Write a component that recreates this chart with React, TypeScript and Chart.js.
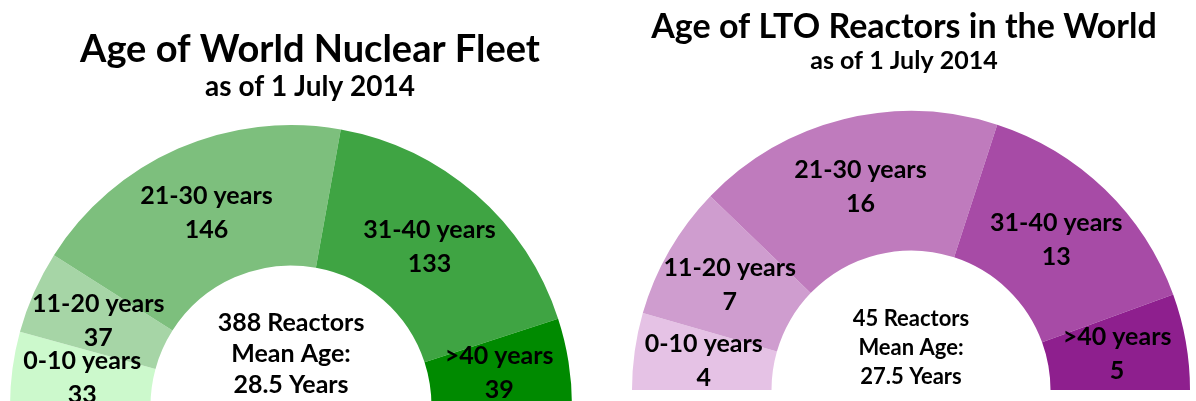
import React, { useEffect, useRef } from "react";
import { Chart, registerables } from "chart.js";

Chart.register(...registerables);

const categories = ["0-10 years", "11-20 years", "21-30 years", "31-40 years", ">40 years"];
const worldValues = [33, 37, 146, 133, 39];
const ltoValues = [4, 7, 16, 13, 5];
const worldColors = ["#ccf9cc", "#a6d5a6", "#7dbf7d", "#3fa443", "#008a00"];
const ltoColors = ["#e5c2e5", "#cf9dcf", "#bf7bbd", "#a74ba6", "#8e1f8e"];
const worldTitle = "Age of World Nuclear Fleet";
const ltoTitle = "Age of LTO Reactors in the World";
const subTitle = "as of 1 July 2014";
const worldCenter = ["388 Reactors", "Mean Age:", "28.5 Years"];
const ltoCenter = ["45 Reactors", "Mean Age:", "27.5 Years"];

const FONT = "Lato, 'Open Sans', sans-serif";

type Cfg = {
  title: string;
  titleX: number;
  titleY: number;
  subY: number;
  titleSize: number;
  subSize: number;
  center: string[];
  centerSize: number;
  centerGap: number;
  centerY: number;
  labelSize: number;
  labelGap: number;
};

function makePlugin(cfg: Cfg) {
  return {
    id: "halfDonutText",
    afterDraw(chart: any) {
      const ctx = chart.ctx;
      ctx.save();
      ctx.fillStyle = "#000";
      ctx.textAlign = "center";
      ctx.textBaseline = "alphabetic";
      ctx.font = `bold ${cfg.titleSize}px ${FONT}`;
      ctx.fillText(cfg.title, cfg.titleX, cfg.titleY);
      ctx.font = `bold ${cfg.subSize}px ${FONT}`;
      ctx.fillText(subTitle, cfg.titleX, cfg.subY);

      const meta = chart.getDatasetMeta(0);
      const data = chart.data.datasets[0].data;
      ctx.textBaseline = "middle";
      ctx.font = `bold ${cfg.labelSize}px ${FONT}`;
      meta.data.forEach((arc: any, i: number) => {
        const p = arc.tooltipPosition();
        ctx.fillText(String(chart.data.labels[i]), p.x, p.y - cfg.labelGap / 2);
        ctx.fillText(String(data[i]), p.x, p.y + cfg.labelGap / 2);
      });

      const first = meta.data[0];
      const cx = first.x;
      const cy = first.y;
      ctx.font = `bold ${cfg.centerSize}px ${FONT}`;
      cfg.center.forEach((line, i) => {
        ctx.fillText(line, cx, cy + cfg.centerY + i * cfg.centerGap);
      });
      ctx.restore();
    },
  };
}

function HalfDonut(props: {
  values: number[];
  colors: string[];
  width: number;
  height: number;
  padding: { left: number; right: number; top: number; bottom: number };
  cfg: Cfg;
}) {
  const ref = useRef<HTMLCanvasElement | null>(null);
  useEffect(() => {
    if (!ref.current) return;
    const chart = new Chart(ref.current, {
      type: "doughnut",
      data: {
        labels: categories,
        datasets: [
          {
            data: props.values,
            backgroundColor: props.colors,
            borderWidth: 0,
          },
        ],
      },
      options: {
        responsive: false,
        animation: false,
        rotation: -90,
        circumference: 180,
        cutout: "50%",
        layout: { padding: props.padding },
        plugins: {
          legend: { display: false },
          tooltip: { enabled: false },
          title: { display: false },
        },
      },
      plugins: [makePlugin(props.cfg)],
    });
    return () => chart.destroy();
  }, []);
  return (
    <canvas
      ref={ref}
      width={props.width}
      height={props.height}
      style={{ display: "block", width: props.width, height: props.height }}
    />
  );
}

export default function App() {
  return (
    <div
      style={{
        position: "absolute",
        left: 0,
        top: 0,
        width: 1196,
        height: 401,
        overflow: "hidden",
        background: "#fff",
      }}
    >
      <div style={{ position: "absolute", left: 0, top: 0 }}>
        <HalfDonut
          values={worldValues}
          colors={worldColors}
          width={598}
          height={420}
          padding={{ left: 10, right: 26, top: 125, bottom: 14 }}
          cfg={{
            title: worldTitle,
            titleX: 310,
            titleY: 62,
            subY: 96,
            titleSize: 38,
            subSize: 28,
            center: worldCenter,
            centerSize: 25,
            centerGap: 31,
            centerY: -83,
            labelSize: 25,
            labelGap: 34,
          }}
        />
      </div>
      <div style={{ position: "absolute", left: 598, top: 0 }}>
        <HalfDonut
          values={ltoValues}
          colors={ltoColors}
          width={598}
          height={401}
          padding={{ left: 34, right: 6, top: 111, bottom: 11 }}
          cfg={{
            title: ltoTitle,
            titleX: 306,
            titleY: 38,
            subY: 69,
            titleSize: 34,
            subSize: 25,
            center: ltoCenter,
            centerSize: 22,
            centerGap: 29,
            centerY: -71,
            labelSize: 25,
            labelGap: 34,
          }}
        />
      </div>
    </div>
  );
}
